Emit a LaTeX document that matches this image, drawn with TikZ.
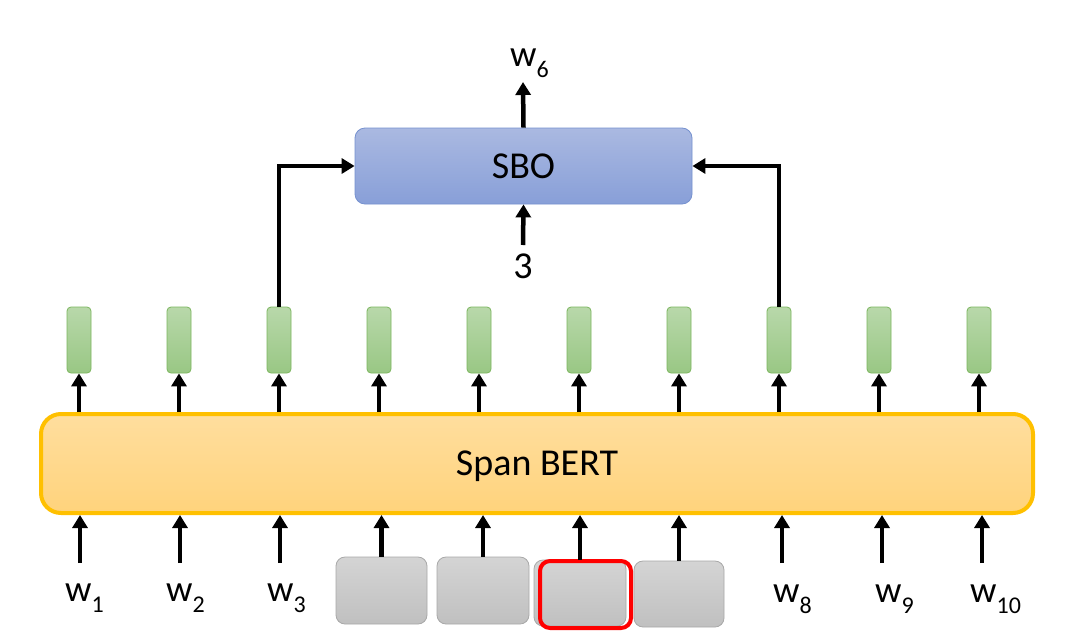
\documentclass[tikz,border=0pt]{standalone}
\usepackage{fontspec}
\setmainfont{Carlito}
\usetikzlibrary{arrows.meta}
\definecolor{bertA}{HTML}{FFDE9E}
\definecolor{bertB}{HTML}{FFD37C}
\definecolor{bertline}{HTML}{FFC000}
\definecolor{greenA}{HTML}{B8D8AA}
\definecolor{greenB}{HTML}{99C784}
\definecolor{greenline}{HTML}{7CB65E}
\definecolor{grayA}{HTML}{D4D4D4}
\definecolor{grayB}{HTML}{C0C0C0}
\definecolor{grayline}{HTML}{A8A8A8}
\definecolor{blueA}{HTML}{AAB9E1}
\definecolor{blueB}{HTML}{889FD8}
\definecolor{blueline}{HTML}{7591CF}
\newcommand{\wlab}[1]{w\raisebox{-11pt}{\fontsize{24}{24}\selectfont #1}}
\tikzset{
  arr/.style={line width=4.5pt, -{Triangle[width=15pt,length=13pt]}},
  bigtext/.style={font=\fontsize{38}{40}\selectfont},
  wtext/.style={font=\fontsize{37}{40}\selectfont, inner sep=0pt, anchor=base west},
  greenbox/.style={draw=greenline, line width=0.8pt, top color=greenA, bottom color=greenB,
    rounded corners=4pt, minimum width=24pt, minimum height=66pt, inner sep=0pt},
  graybox/.style={draw=grayline, line width=0.8pt, top color=grayA, bottom color=grayB,
    rounded corners=9pt, inner sep=0pt},
}
\begin{document}
\begin{tikzpicture}[x=1pt,y=-1pt]
\useasboundingbox[fill=white] (0,0) rectangle (1076,635);

% Span BERT
\node[draw=bertline, line width=4pt, top color=bertA, bottom color=bertB,
  rounded corners=20pt, minimum width=992pt, minimum height=99pt, inner sep=0pt,
  text depth=0pt, bigtext] (bert) at (537,463.5) {Span BERT};

% SBO
\node[draw=blueline, line width=0.8pt, top color=blueA, bottom color=blueB,
  rounded corners=10pt, minimum width=337pt, minimum height=76pt, inner sep=0pt,
  bigtext] (sbo) at (523.5,166) {SBO};

% green output boxes
\foreach \i in {1,...,10} {
  \node[greenbox] (g\i) at ({79+100*(\i-1)},340) {};
  \draw[arr] (bert.north -| g\i.south) -- (g\i.south);
}

% gray masked boxes
\node[graybox, minimum width=91pt, minimum height=67pt] (m4) at (381.5,590.5) {};
\node[graybox, minimum width=92pt, minimum height=67pt] (m5) at (483,590.5) {};
\node[graybox, minimum width=92pt, minimum height=66pt] (m6) at (580,593) {};
\node[graybox, minimum width=90pt, minimum height=66pt] (m7) at (679,594) {};
\node[draw=red, line width=4pt, rounded corners=10pt, minimum width=91pt,
  minimum height=67pt, inner sep=0pt] (redbox) at (585.5,594.5) {};
\foreach \m in {m4,m5,m6,m7} {
  \draw[arr] (\m.north) -- (\m.north |- bert.south);
}

% plain word inputs
\foreach \i/\x in {1/80,2/180,3/280,8/782,9/882,10/982} {
  \coordinate (in\i) at (\x,563);
  \draw[arr] (in\i) -- (in\i |- bert.south);
}
\node[wtext] (w1) at (65,601) {\wlab{1}};
\node[wtext] (w2) at (166,601) {\wlab{2}};
\node[wtext] (w3) at (267,601) {\wlab{3}};
\node[wtext] (w8) at (773,602) {\wlab{8}};
\node[wtext] (w9) at (875,602) {\wlab{9}};
\node[wtext] (w10) at (970,602) {\wlab{10}};

% SBO connections
\draw[arr] (g3.north) |- (sbo.west);
\draw[arr] (g8.north) |- (sbo.east);

\coordinate (outtip) at (523,82);
\draw[arr] (sbo.north) -- (outtip);
\node[wtext] (w6) at (510,66) {\wlab{6}};

\coordinate (posin) at (523,245);
\draw[arr] (posin) -- (sbo.south);
\node[bigtext, inner sep=0pt, anchor=base] (pos) at (523,278) {3};
\end{tikzpicture}
\end{document}
